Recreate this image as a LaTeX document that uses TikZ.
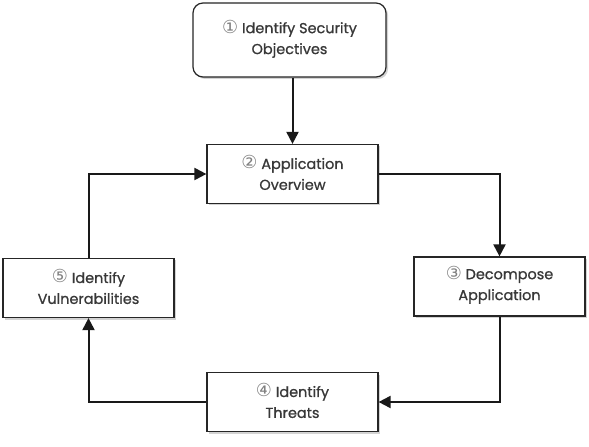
\documentclass[tikz,border=0pt]{standalone}
\usepackage{fontspec}
\setmainfont{Poppins}[FakeBold=0.8]
\newfontfamily\circfont{DejaVu Sans}
\usetikzlibrary{positioning,arrows.meta,shadows}

\newcommand{\stepno}[1]{{\circfont\fontsize{18}{15}\selectfont\color{black!50}\smash{#1}}\ }

\begin{document}
\begin{tikzpicture}[
  x=1bp, y=-1bp,
  font=\fontsize{14.5}{21}\selectfont,
  box/.style={draw=black!85, line width=1.2bp, fill=white, align=center,
              text=black!78, minimum width=171bp, minimum height=59bp,
              inner sep=2bp,
              drop shadow={shadow xshift=2bp, shadow yshift=-2bp, opacity=.35}},
  topbox/.style={box, rounded corners=10bp, minimum width=193bp, minimum height=74bp},
  arr/.style={-{Triangle[length=12bp, width=12bp]}, line width=2bp, black!90}]

\useasboundingbox (0,0) rectangle (589,447);

% ---- the five steps ----
\node[topbox] (objectives) at (289.5,40) {\stepno{①}Identify Security\\Objectives};
\node[box] (overview) at (292.5,174) {\stepno{②}Application\\Overview};
\node[box] (decompose) at (499.5,286.5) {\stepno{③}Decompose\\Application};
\node[box] (threats) at (292.5,402) {\stepno{④}Identify\\Threats};
\node[box] (vulns) at (88.5,288) {\stepno{⑤}Identify\\Vulnerabilities};

% ---- the cycle ----
\draw[arr] (objectives.south -| overview) -- (overview.north);
\draw[arr] (overview.east) -| (decompose.north);
\draw[arr] (decompose.south) |- (threats.east);
\draw[arr] (threats.west) -| (vulns.south);
\draw[arr] (vulns.north) |- (overview.west);
\end{tikzpicture}
\end{document}
